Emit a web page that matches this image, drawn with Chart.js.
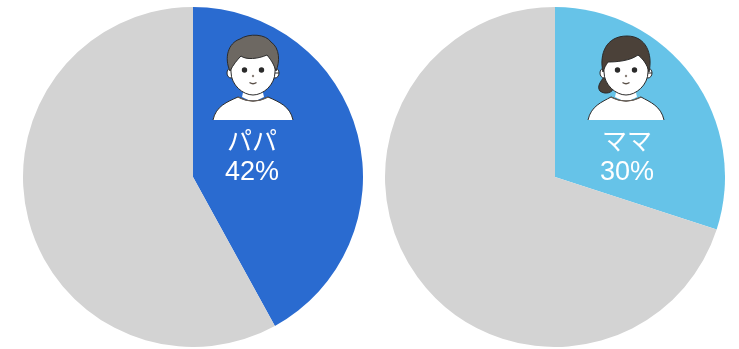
<!DOCTYPE html>
<html lang="ja">
<head>
<meta charset="utf-8">
<title>パパ ママ</title>
<script src="https://cdn.jsdelivr.net/npm/chart.js@4"></script>
<style>
  html, body { margin: 0; padding: 0; background: #fff; }
  body { width: 739px; height: 349px; position: relative; overflow: hidden; }
  .pie { position: absolute; top: 7px; width: 340px; height: 340px; }
  #pie-papa { left: 23px; }
  #pie-mama { left: 385px; }
</style>
</head>
<body>
<div class="pie" id="pie-papa"><canvas id="chart-papa" width="340" height="340"></canvas></div>
<div class="pie" id="pie-mama"><canvas id="chart-mama" width="340" height="340"></canvas></div>
<script>
const names = ['パパ', 'ママ'];
const shares = [42, 30];
const sliceColors = ['#2a6bd0', '#66c3e8'];
const restColor = '#d3d3d3';
const hairColors = ['#6d6862', '#4b4139'];

const INK = '#2b2b2b';

function shoulderPath(ctx, hw) {
  ctx.moveTo(-hw, 50);
  ctx.bezierCurveTo(-hw + 3, 36, -hw + 14, 32, -15, 27);
  ctx.quadraticCurveTo(0, 35, 15, 27);
  ctx.bezierCurveTo(hw - 14, 32, hw - 3, 36, hw, 50);
}

function shoulders(ctx, hw) {
  ctx.beginPath();
  shoulderPath(ctx, hw);
  ctx.closePath();
  ctx.fillStyle = '#fff';
  ctx.fill();
  ctx.strokeStyle = INK;
  ctx.lineWidth = 1;
  ctx.beginPath();
  shoulderPath(ctx, hw);
  ctx.stroke();
  // neck
  ctx.fillStyle = '#fff';
  ctx.beginPath();
  ctx.moveTo(-9, 18);
  ctx.lineTo(-11, 27);
  ctx.quadraticCurveTo(0, 34, 11, 27);
  ctx.lineTo(9, 18);
  ctx.closePath();
  ctx.fill();
  ctx.strokeStyle = '#6b5f55';
  ctx.lineWidth = 1.3;
  ctx.beginPath();
  ctx.moveTo(-15, 27);
  ctx.quadraticCurveTo(0, 35, 15, 27);
  ctx.stroke();
}

function face(ctx) {
  ctx.fillStyle = '#fff';
  ctx.strokeStyle = INK;
  ctx.lineWidth = 1;
  // ears
  ctx.beginPath();
  ctx.ellipse(-22, 3, 4, 5, 0, 0, Math.PI * 2);
  ctx.ellipse(22, 3, 4, 5, 0, 0, Math.PI * 2);
  ctx.fill();
  ctx.stroke();
  // whole head, the hair is painted over its top
  ctx.beginPath();
  ctx.moveTo(0, -26);
  ctx.bezierCurveTo(-16, -26, -23, -12, -22, 2);
  ctx.bezierCurveTo(-22, 15, -10, 25, 0, 25);
  ctx.bezierCurveTo(10, 25, 22, 15, 22, 2);
  ctx.bezierCurveTo(23, -12, 16, -26, 0, -26);
  ctx.closePath();
  ctx.fill();
  ctx.stroke();
  // eyes, nose, mouth
  ctx.fillStyle = '#2a2a2a';
  ctx.beginPath();
  ctx.arc(-8.5, 0, 2.7, 0, Math.PI * 2);
  ctx.arc(8.5, 0, 2.7, 0, Math.PI * 2);
  ctx.fill();
  ctx.fillStyle = '#8a7f78';
  ctx.beginPath();
  ctx.arc(0, 6, 1.2, 0, Math.PI * 2);
  ctx.fill();
  ctx.strokeStyle = '#5a5048';
  ctx.lineWidth = 1.3;
  ctx.beginPath();
  ctx.moveTo(-3.5, 12.5);
  ctx.quadraticCurveTo(0, 15, 3.5, 12.5);
  ctx.stroke();
}

function papaHair(ctx, color) {
  ctx.fillStyle = color;
  ctx.strokeStyle = INK;
  ctx.lineWidth = 1;
  ctx.beginPath();
  ctx.moveTo(-23, 1);
  ctx.bezierCurveTo(-29, -12, -25, -27, -13, -31);
  ctx.bezierCurveTo(-4, -37, 13, -36, 18, -28);
  ctx.bezierCurveTo(27, -22, 27, -8, 23, 1);
  ctx.bezierCurveTo(21, -5, 19, -9, 14, -15);
  ctx.bezierCurveTo(5, -11, -7, -10, -12, -14);
  ctx.bezierCurveTo(-16, -10, -20, -5, -23, 1);
  ctx.closePath();
  ctx.fill();
  ctx.stroke();
}

function mamaHairBack(ctx, color) {
  // side ponytail behind the head
  ctx.fillStyle = color;
  ctx.strokeStyle = INK;
  ctx.lineWidth = 1;
  ctx.beginPath();
  ctx.moveTo(-20, 4);
  ctx.bezierCurveTo(-24, 10, -30, 16, -26, 21);
  ctx.bezierCurveTo(-21, 25, -13, 23, -12, 17);
  ctx.closePath();
  ctx.fill();
  ctx.stroke();
}

function mamaHair(ctx, color) {
  ctx.fillStyle = color;
  ctx.strokeStyle = INK;
  ctx.lineWidth = 1;
  ctx.beginPath();
  ctx.moveTo(-23, 2);
  ctx.bezierCurveTo(-27, -16, -20, -34, 1, -34);
  ctx.bezierCurveTo(20, -34, 27, -16, 23, 2);
  ctx.bezierCurveTo(21, -6, 17, -11, 12, -15);
  ctx.bezierCurveTo(4, -9, -10, -8, -18, -8);
  ctx.bezierCurveTo(-20, -5, -22, -2, -23, 2);
  ctx.closePath();
  ctx.fill();
  ctx.stroke();
}

// portrait and caption sit on the coloured slice at a fixed offset from the centre
const sliceLabel = {
  id: 'sliceLabel',
  afterDraw(chart, args, opts) {
    const { ctx } = chart;
    const arc = chart.getDatasetMeta(0).data[0];

    ctx.save();
    ctx.translate(arc.x + opts.dx, arc.y - 107);
    if (opts.who === 0) {
      shoulders(ctx, 40);
      face(ctx);
      papaHair(ctx, hairColors[0]);
    } else {
      mamaHairBack(ctx, hairColors[1]);
      shoulders(ctx, 38);
      face(ctx);
      mamaHair(ctx, hairColors[1]);
    }
    ctx.restore();

    ctx.save();
    ctx.fillStyle = '#ffffff';
    ctx.textAlign = 'center';
    ctx.textBaseline = 'middle';
    ctx.font = '25px "Noto Sans CJK JP"';
    ctx.fillText(chart.data.labels[0], arc.x + opts.tx, arc.y - 37);
    ctx.font = '27px "Liberation Sans"';
    ctx.fillText(chart.data.datasets[0].data[0] + '%', arc.x + opts.tx, arc.y - 4);
    ctx.restore();
  }
};

function drawPie(id, who, dx, tx) {
  return new Chart(document.getElementById(id), {
    type: 'pie',
    data: {
      labels: [names[who], ''],
      datasets: [{
        data: [shares[who], 100 - shares[who]],
        backgroundColor: [sliceColors[who], restColor],
        borderWidth: 0,
      }],
    },
    options: {
      responsive: false,
      animation: false,
      layout: { padding: 0 },
      plugins: {
        legend: { display: false },
        tooltip: { enabled: false },
        sliceLabel: { who, dx, tx },
      },
    },
    plugins: [sliceLabel],
  });
}

drawPie('chart-papa', 0, 60, 59);
drawPie('chart-mama', 1, 71, 72);
</script>
</body>
</html>
